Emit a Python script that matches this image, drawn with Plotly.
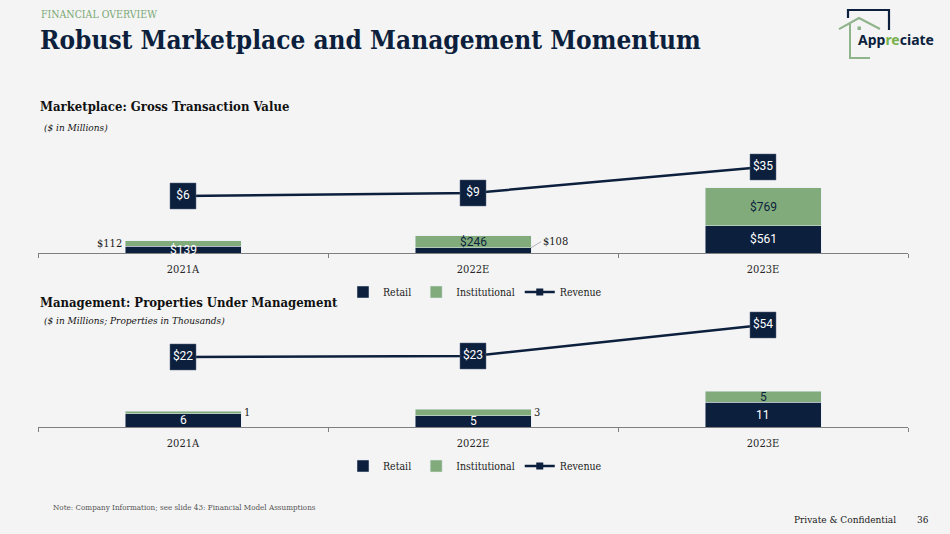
import plotly.graph_objects as go

W, H = 950, 534


def px(x):
    return x / W


def py(y):
    return 1 - y / H


# ---------------- data ----------------
categories = ["2021A", "2022E", "2023E"]
gtv_retail = [139, 108, 561]
gtv_institutional = [112, 246, 769]
gtv_revenue = [6, 9, 35]
pum_retail = [6, 5, 11]
pum_institutional = [1, 3, 5]
pum_revenue = [22, 23, 54]

# label placement (styling, not data)
gtv_retail_pos = ["center", "right_leader", "center"]
gtv_inst_pos = ["left", "center", "center"]
pum_retail_pos = ["center", "center", "center"]
pum_inst_pos = ["right", "right", "center"]

NAVY = "#0c1f3d"
GREEN = "#82ab7c"
BG = "#f4f4f4"
SERIF = "DejaVu Serif Condensed, DejaVu Serif, serif"
SANS = "Roboto, Noto Sans, sans-serif"

fig = go.Figure()


def add_chart(xa, ya, ya2, leg, retail, inst, revenue):
    fig.add_trace(go.Bar(name="Retail", x=categories, y=retail, marker_color=NAVY,
                         xaxis=xa, yaxis=ya, legend=leg, hoverinfo="skip"))
    fig.add_trace(go.Bar(name="Institutional", x=categories, y=inst, marker_color=GREEN,
                         xaxis=xa, yaxis=ya, legend=leg, hoverinfo="skip"))
    fig.add_trace(go.Scatter(name="Revenue", x=categories, y=revenue, xaxis=xa, yaxis=ya2,
                             mode="lines+markers+text", text=[f"${v}" for v in revenue],
                             textposition="middle center",
                             textfont=dict(color="white", size=12, family=SANS),
                             line=dict(color=NAVY, width=2.5),
                             marker=dict(symbol="square", size=26, color=NAVY,
                                         line=dict(color="#5a6a80", width=0.5)),
                             legend=leg, showlegend=False, hoverinfo="skip"))
    # legend entry for the revenue line (small square marker like the original)
    fig.add_trace(go.Scatter(name="Revenue", x=[None], y=[None], xaxis=xa, yaxis=ya2,
                             mode="lines+markers", line=dict(color=NAVY, width=2.5),
                             marker=dict(symbol="square", size=7, color=NAVY),
                             legend=leg, hoverinfo="skip"))


add_chart("x", "y", "y3", "legend", gtv_retail, gtv_institutional, gtv_revenue)
add_chart("x2", "y2", "y4", "legend2", pum_retail, pum_institutional, pum_revenue)

xaxis_style = dict(type="category", showline=True, linecolor="#7f7f7f", linewidth=1,
                   ticks="outside", tickson="boundaries", ticklen=4, tickcolor="#7f7f7f",
                   ticklabelstandoff=6,
                   tickfont=dict(family=SERIF, size=11, color="#262626"),
                   showgrid=False, zeroline=False, fixedrange=True)
hidden_y = dict(visible=False, showgrid=False, zeroline=False, fixedrange=True)

legend_style = dict(orientation="h", x=0.5, xanchor="center", yanchor="middle",
                    font=dict(family=SERIF, size=10.5, color="#1a1a1a"),
                    bgcolor="rgba(0,0,0,0)", traceorder="normal")

annotations = []


def bar_labels(xref, yref, retail, inst, rpos, ipos, dollar):
    for i, cat in enumerate(categories):
        for val, base, pos, inside_color in ((retail[i], 0, rpos[i], "white"),
                                             (inst[i], retail[i], ipos[i], NAVY)):
            txt = f"${val}" if dollar else f"{val}"
            ymid = base + val / 2
            a = dict(x=cat, y=ymid, xref=xref, yref=yref, text=txt, showarrow=False)
            if pos == "center":
                a.update(font=dict(family=SANS, size=12, color=inside_color))
            elif pos == "left":
                a.update(xanchor="right", xshift=-59,
                         font=dict(family=SERIF, size=11, color="#1a1a1a"))
            elif pos == "right":
                a.update(xanchor="left", xshift=59,
                         font=dict(family=SERIF, size=11, color="#1a1a1a"))
            elif pos == "right_leader":
                a.update(y=base + val, xanchor="left", yanchor="middle", xshift=58,
                         showarrow=True, ax=10, ay=-6, arrowhead=0, arrowwidth=0.8,
                         arrowcolor="#a0a0a0", standoff=0,
                         font=dict(family=SERIF, size=11, color="#1a1a1a"))
            annotations.append(a)


bar_labels("x", "y", gtv_retail, gtv_institutional, gtv_retail_pos, gtv_inst_pos, True)
bar_labels("x2", "y2", pum_retail, pum_institutional, pum_retail_pos, pum_inst_pos, False)


def paper_text(x, y, text, size, color, family=SERIF, xanchor="left", bold=False, italic=False):
    t = text
    if bold:
        t = f"<b>{t}</b>"
    if italic:
        t = f"<i>{t}</i>"
    annotations.append(dict(x=px(x), y=py(y), xref="paper", yref="paper", text=t,
                            showarrow=False, xanchor=xanchor, yanchor="middle",
                            font=dict(family=family, size=size, color=color)))


paper_text(39, 14, "FINANCIAL OVERVIEW", 10.5, "#7aa874")
paper_text(38, 40, "Robust Marketplace and Management Momentum", 26, NAVY, bold=True)
paper_text(38, 107, "Marketplace: Gross Transaction Value", 13, "#111111", bold=True)
paper_text(42, 127, "($ in Millions)", 10, "#111111", italic=True)
paper_text(38, 302, "Management: Properties Under Management", 13, "#111111", bold=True)
paper_text(42, 320, "($ in Millions; Properties in Thousands)", 10, "#111111", italic=True)
paper_text(51, 507, "Note: Company Information; see slide 43: Financial Model Assumptions", 8, "#555555")
paper_text(898, 519, "Private & Confidential", 10, "#1a1a1a", xanchor="right")
paper_text(931, 519, "36", 10, "#1a1a1a", xanchor="right")

# logo text
annotations.append(dict(x=px(856), y=py(40), xref="paper", yref="paper", showarrow=False,
                        xanchor="left", yanchor="middle",
                        text=f"<b><span style='color:{NAVY}'>App</span>"
                             f"<span style='color:#79b24e'>re</span>"
                             f"<span style='color:{NAVY}'>ciate</span></b>",
                        font=dict(family="Noto Sans, sans-serif", size=14)))


def path(points):
    return "M " + " L ".join(f"{px(x):.5f},{py(y):.5f}" for x, y in points)


shapes = [
    dict(type="path", xref="paper", yref="paper",
         path=path([(848, 18), (848, 10), (889, 10), (889, 30)]),
         line=dict(color=NAVY, width=2.2)),
    dict(type="path", xref="paper", yref="paper",
         path=path([(839, 29), (859, 18), (880, 29)]),
         line=dict(color="#8fb38a", width=2)),
    dict(type="path", xref="paper", yref="paper",
         path=path([(850, 24), (850, 58), (870, 58)]),
         line=dict(color="#8fb38a", width=2)),
    dict(type="rect", xref="paper", yref="paper",
         x0=px(857.5), x1=px(861), y0=py(30), y1=py(26.5),
         fillcolor="#8fb38a", line=dict(width=0)),
]

fig.update_layout(
    width=W, height=H,
    margin=dict(l=0, r=0, t=0, b=0),
    paper_bgcolor=BG, plot_bgcolor=BG,
    barmode="stack", bargap=0.6,
    showlegend=True,
    xaxis=dict(domain=[px(38), px(908)], anchor="y", **xaxis_style),
    yaxis=dict(domain=[py(253), py(150)], range=[0, 2107], anchor="x", **hidden_y),
    yaxis3=dict(overlaying="y", range=[-51, 52], anchor="x", **hidden_y),
    xaxis2=dict(domain=[px(38), px(908)], anchor="y2", **xaxis_style),
    yaxis2=dict(domain=[py(427), py(310)], range=[0, 52], anchor="x2", **hidden_y),
    yaxis4=dict(overlaying="y2", range=[-48, 69], anchor="x2", **hidden_y),
    legend=dict(y=py(292), **legend_style),
    legend2=dict(y=py(466), **legend_style),
    annotations=annotations,
    shapes=shapes,
)

fig.write_html("out.html",
               config={"displayModeBar": False},
               post_script="document.body.style.margin='0';document.body.style.overflow='hidden';"
                           f"document.body.style.background='{BG}';")
